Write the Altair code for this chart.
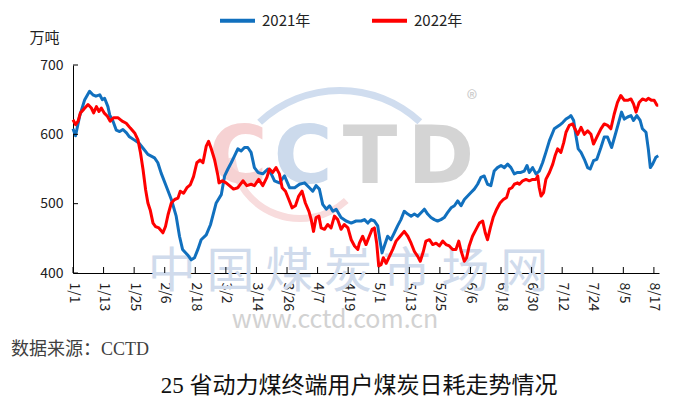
import json
import altair as alt
import pandas as pd

# ---------------- data ----------------
tick_labels = ["1/1", "1/13", "1/25", "2/6", "2/18", "3/2", "3/14", "3/26", "4/7", "4/19",
               "5/1", "5/13", "5/25", "6/6", "6/18", "6/30", "7/12", "7/24", "8/5", "8/17"]
tick_days = [0, 12, 24, 36, 48, 60, 72, 84, 96, 108, 120, 132, 144, 156, 168, 180, 192, 204, 216, 228]
y_ticks = [400, 500, 600, 700]
series_names = ["2021年", "2022年"]

days_2021 = [0, 1, 2.6, 4.6, 6.5, 7.8, 9, 10.5, 11.5, 12.4, 13.7, 14.4, 15.7, 17, 18.3, 19.6, 21, 22, 24, 26,
             27.5, 29.4, 32, 33.3, 34.6, 36.6, 38.6, 40.5, 41.8, 43, 45, 46.4, 47.7, 49, 50.3, 52.3, 54, 56.2,
             58.2, 59.5, 60.8, 62.1, 63.4, 64.7, 66, 67.3, 68.6, 69.9, 71.2, 72.6, 74.5, 76.5, 77.8, 79.1, 81,
             83, 85, 87, 88.9, 90.9, 92.8, 94.1, 95.4, 96.7, 98, 99.4, 100.7, 102, 103.3, 105.2, 107.2, 109.2,
             111.1, 113.1, 114.4, 115.7, 117, 118.3, 119.6, 120.5, 121.3, 122.2, 123.5, 124.8, 126.1, 127.4,
             128.7, 130, 131.4, 132.7, 134, 135.3, 136.6, 137.9, 139.2, 140.5, 141.8, 143.1, 144.4, 145.7, 147,
             148.4, 149.7, 151, 152.3, 153.6, 154.9, 156.2, 157.5, 158.8, 160.1, 161.4, 162.7, 164, 165.3,
             166.6, 168, 169.3, 170.6, 171.9, 173.2, 174.5, 175.8, 177.1, 178.2, 179.1, 180.4, 181.7, 183,
             184.3, 185.6, 187, 188.9, 190.9, 192.2, 193.5, 194.8, 195.4, 196.5, 197.4, 198.3, 199.4, 200.7,
             202, 203, 204.3, 205.6, 207.2, 208.5, 209.8, 211.4, 213.1, 214.4, 215.3, 216.4, 217.7, 219, 220,
             221.3, 222.6, 223.5, 224.9, 225.8, 226.6, 227.5, 228.8, 229.7]
vals_2021 = [608, 598, 626, 650, 662, 657, 655, 657, 650, 652, 640, 628, 619, 606, 604, 607, 602, 597, 592, 587,
             580, 571, 566, 559, 544, 525, 506, 482, 453, 434, 426, 419, 422, 434, 448, 455, 470, 501,
             513, 540, 550, 559, 569, 579, 576, 581, 581, 574, 552, 545, 543, 550, 543, 533, 530,
             540, 523, 523, 528, 530, 523, 518, 526, 521, 499, 492, 497, 489, 492, 480, 475, 472,
             475, 475, 477, 472, 477, 475, 468, 446, 429, 439, 453, 448, 458, 468,
             477, 489, 485, 482, 485, 482, 487, 492, 485, 480, 477, 475, 477, 480, 487,
             494, 497, 504, 497, 506, 511, 516, 521, 528, 538, 540, 528, 526, 547,
             552, 555, 552, 557, 552, 543, 545, 545, 547, 555, 545, 552, 543, 547,
             559, 574, 591, 608, 613, 617, 622, 625, 627, 620, 598, 579, 574, 564,
             552, 550, 562, 564, 581, 596, 596, 581, 603, 620, 632, 622, 625, 627, 620,
             627, 620, 608, 603, 579, 552, 557, 567, 569]

days_2022 = [0, 1, 2, 2.9, 4.2, 5.9, 7.2, 8.1, 9.2, 10.2, 11.1, 12.2, 13.5, 14.6, 15.9, 17.6, 19.3, 20.9, 22.5,
             24.2, 25.5, 26.5, 27.5, 28.5, 29.4, 30.3, 31.4, 32.4, 33.7, 35.3, 36.3, 37.3, 38.6, 39.9, 41.2,
             42.1, 43.4, 44.7, 46, 47.3, 48.6, 49.9, 51, 52.3, 53.2, 54.2, 55.6, 56.9, 57.3, 58.6, 60.1, 61.4,
             63, 64.7, 66.7, 68.2, 69.9, 71.2, 72.9, 74.5, 76.1, 77.1, 78.4, 79.7, 81, 82.1, 83.4, 84.7, 86,
             87.3, 88.6, 89.9, 91.2, 92.6, 93.5, 94.4, 95.4, 96.5, 97.4, 98.7, 100, 101.3, 102.6, 103.9, 105.2,
             106.5, 107.9, 109.2, 110.5, 111.8, 112.4, 113.7, 115, 116.3, 117.4, 118.3, 119.2, 120, 120.9,
             121.8, 122.9, 124.2, 125.5, 126.8, 128.4, 130, 131.4, 132.7, 134, 135.3, 136.3, 137.5, 138.5,
             139.9, 141.2, 142.5, 143.8, 145.1, 146.4, 147.7, 149, 150.3, 151.4, 152.4, 153.6, 154.5, 155.5,
             156.8, 158.2, 159.5, 160.8, 161.8, 162.7, 163.8, 164.9, 166.3, 167.6, 168.9, 170.2, 171.2, 172.3,
             173.2, 174.5, 175.2, 176.5, 177.8, 179.1, 180.4, 181.7, 182.4, 183, 183.7, 184.7, 185.6, 187,
             188.3, 189.2, 190.2, 191.5, 192.6, 193.5, 194.8, 196.1, 197, 198.1, 199.4, 200.7, 202, 203.3,
             204.3, 205.6, 207.2, 208.5, 209.8, 211.1, 212.4, 213.7, 215, 216.4, 217.7, 219, 220, 221, 222.2,
             223.5, 224.9, 225.8, 227.1, 228.1, 229.2, 229.7]
vals_2022 = [621, 614, 619, 631, 636, 643, 638, 631, 640, 633, 638, 631, 626, 619, 624, 624, 619, 616, 609,
             602, 592, 573, 549, 520, 501, 491, 472, 467, 465, 458, 467, 484, 501, 506, 508,
             518, 515, 523, 527, 539, 559, 563, 559, 583, 590, 580, 563, 540, 530, 533, 530, 526,
             521, 523, 533, 526, 528, 526, 535, 526, 538, 550, 545, 552, 543, 523, 518, 506, 494,
             497, 511, 518, 501, 489, 477, 460, 480, 482, 465, 463, 470, 465, 482, 477, 463,
             470, 465, 448, 439, 434, 443, 453, 441, 453, 463, 465, 443, 410, 412,
             422, 414, 424, 434, 446, 453, 460, 453, 443, 431, 424, 417, 431, 446,
             448, 441, 443, 439, 446, 441, 439, 434, 434, 446, 431, 417, 422, 439,
             453, 463, 472, 475, 458, 448, 465, 480, 492, 501, 506, 509, 521, 523,
             528, 530, 528, 533, 535, 533, 535, 535, 540, 523, 511, 516, 535, 545,
             557, 569, 579, 574, 588, 603, 613, 615, 608, 600, 610, 600, 605, 600,
             586, 596, 608, 615, 613, 608, 629, 646, 656, 649, 649, 651, 644, 632, 646,
             651, 649, 652, 649, 649, 642, 642]

# ---------------- styling ----------------
SANS = "Noto Sans CJK SC"
SERIF = "Liberation Serif, Noto Sans CJK SC"
BLUE = "#1170BE"
RED = "#FF0000"
W, H = 586, 208

df = pd.concat([
    pd.DataFrame({"day": days_2021, "value": vals_2021, "series": series_names[0]}),
    pd.DataFrame({"day": days_2022, "value": vals_2022, "series": series_names[1]}),
], ignore_index=True)

label_expr = json.dumps(tick_labels) + "[round(datum.value / 12)]"

x_scale = alt.Scale(domain=[0, 230], nice=False, zero=False)
y_scale = alt.Scale(domain=[400, 700], nice=False, zero=False)

x_axis = alt.Axis(values=tick_days, labelExpr=label_expr, labelAngle=90, ticks=False,
                  grid=False, labelPadding=9, title=None, labelFontSize=14)
y_axis = alt.Axis(values=y_ticks, ticks=False, grid=False, labelPadding=10,
                  title="万吨", titleAngle=0, titleX=-29, titleY=-28, titleAlign="center",
                  titleBaseline="middle", titleFontWeight="normal", titleFontSize=15,
                  titleFont=SANS, titleColor="#222222", labelFontSize=14)


def one(text):
    return alt.Chart(pd.DataFrame({"t": [text]}))


def wm_letter(ch, color, x):
    return one(ch).mark_text(text=ch, font="DejaVu Sans", fontWeight="bold", fontSize=80,
                             color=color, baseline="alphabetic", align="center").encode(
        x=alt.value(x), y=alt.value(118))


# watermark (logo + site name)
wm_c1 = wm_letter("C", "#f6d2d3", 165)
wm_c2 = wm_letter("C", "#ccdaec", 230)
wm_t = wm_letter("T", "#d4d4d4", 297)
wm_d = wm_letter("D", "#d4d4d4", 368)
wm_arc_top = one("a").mark_arc(innerRadius=114, outerRadius=121, theta=5.53, theta2=7.03,
                               color="#d0ddef").encode(x=alt.value(267), y=alt.value(143))
wm_arc_pink = one("b").mark_arc(innerRadius=65, outerRadius=72, theta=2.4, theta2=4.6,
                                color="#f8dcdd").encode(x=alt.value(227), y=alt.value(85))
wm_r = one("r").mark_text(text="®", font=SANS, fontSize=22, color="#cccccc").encode(
    x=alt.value(399), y=alt.value(35))
wm_cn = one("cn").mark_text(text="中 国 煤 炭 市 场 网", font=SANS, fontSize=48,
                            color="#d0dbec", baseline="middle").encode(
    x=alt.value(275), y=alt.value(208))
wm_url = one("url").mark_text(text="www.cctd.com.cn", font=SANS, fontSize=25,
                              color="#d2d2d2", baseline="middle").encode(
    x=alt.value(262), y=alt.value(255))

lines = alt.Chart(df).mark_line(strokeWidth=3, strokeJoin="round").encode(
    x=alt.X("day:Q", scale=x_scale, axis=x_axis),
    y=alt.Y("value:Q", scale=y_scale, axis=y_axis),
    color=alt.Color("series:N", scale=alt.Scale(domain=series_names, range=[BLUE, RED]),
                    legend=alt.Legend(title=None, orient="none", legendX=145, legendY=-64,
                                      direction="horizontal", symbolType="stroke",
                                      symbolStrokeWidth=4, symbolSize=1225, labelFontSize=15,
                                      labelOffset=5, columnPadding=53, padding=0,
                                      labelFont=SANS, labelColor="#222222")),
    detail="series:N",
)

ytick_rules = alt.Chart(pd.DataFrame({"value": y_ticks})).mark_rule(color="black", strokeWidth=1).encode(
    y=alt.Y("value:Q", scale=y_scale, axis=y_axis), x=alt.value(0), x2=alt.value(5))
xtick_rules = alt.Chart(pd.DataFrame({"day": tick_days})).mark_rule(color="black", strokeWidth=1).encode(
    x=alt.X("day:Q", scale=x_scale, axis=x_axis), y=alt.value(H), y2=alt.value(H - 6))

source = one("src").mark_text(text="数据来源：CCTD", font=SERIF, fontSize=18, color="#404040",
                              align="left", baseline="middle").encode(x=alt.value(-62), y=alt.value(285))
title = one("ttl").mark_text(text="25 省动力煤终端用户煤炭日耗走势情况", font=SERIF, fontSize=23,
                             color="#111111", align="center", baseline="middle").encode(
    x=alt.value(286), y=alt.value(321))

chart = alt.layer(
    wm_arc_top, wm_arc_pink, wm_c1, wm_c2, wm_t, wm_d, wm_r, wm_cn, wm_url,
    lines, ytick_rules, xtick_rules, source, title,
).properties(
    width=W, height=H,
    autosize=alt.AutoSizeParams(type="none"),
    padding={"left": 65, "top": 57, "right": 14, "bottom": 130},
).configure_axis(
    labelFont=SANS, labelColor="#222222", domainColor="black", domainWidth=1, zindex=1,
).configure_view(stroke=None)

chart.save("out.html", embed_options={"renderer": "svg", "actions": False})
